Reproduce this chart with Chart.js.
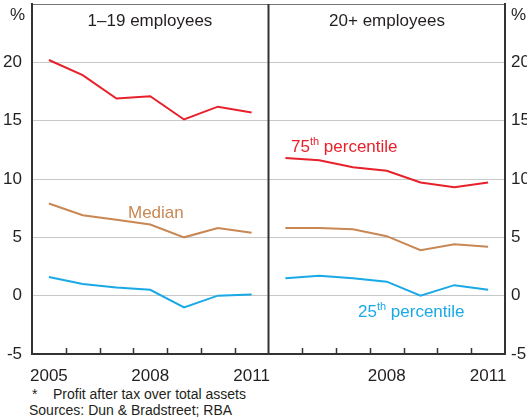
<!DOCTYPE html>
<html>
<head>
<meta charset="utf-8">
<script src="https://cdn.jsdelivr.net/npm/chart.js@4.4.1/dist/chart.umd.min.js"></script>
<style>
  body { margin: 0; background: #fff; }
  #wrap { position: relative; width: 527px; height: 420px; overflow: hidden; font-family: Arial, "Liberation Sans", sans-serif; color: #231f20; }
  #box { position: absolute; left: 0; top: 0; width: 527px; height: 385px; }
  .t { position: absolute; white-space: nowrap; line-height: 17px; font-size: 17px; }
  .t sup { font-size: 11px; line-height: 0; vertical-align: 7px; }
  .f { position: absolute; white-space: nowrap; font-size: 14px; line-height: 14px; }
</style>
</head>
<body>
<div id="wrap">
  <div id="box"><canvas id="chart"></canvas></div>
  <div class="t" style="left:10px;top:6px;">%</div>
  <div class="t" style="left:511px;top:6px;">%</div>
  <div class="t" style="left:150px;top:12px;transform:translateX(-50%);">1–19 employees</div>
  <div class="t" style="left:387px;top:12px;transform:translateX(-50%);">20+ employees</div>
  <div class="t" style="left:128px;top:204px;color:#c88753;">Median</div>
  <div class="t" style="left:291px;top:138px;color:#e8202a;">75<sup>th</sup> percentile</div>
  <div class="t" style="left:358px;top:303px;color:#19a9e6;">25<sup>th</sup> percentile</div>
  <div class="f" style="left:32px;top:387px;">*</div>
  <div class="f" style="left:53px;top:387px;">Profit after tax over total assets</div>
  <div class="f" style="left:29px;top:403px;">Sources: Dun &amp; Bradstreet; RBA</div>
</div>
<script>
const years = ["2005", "2006", "2007", "2008", "2009", "2010", "2011"];
const leftTickYears = ["2005", "2008", "2011"];
const rightTickYears = ["2008", "2011"];

// 1-19 employees
const small75 = [20.2, 18.9, 16.9, 17.1, 15.1, 16.2, 15.7];
const smallMedian = [7.9, 6.9, 6.5, 6.1, 5.0, 5.8, 5.4];
const small25 = [1.6, 1.0, 0.7, 0.5, -1.0, 0.0, 0.1];

// 20+ employees
const large75 = [11.8, 11.6, 11.0, 10.7, 9.7, 9.3, 9.7];
const largeMedian = [5.8, 5.8, 5.7, 5.1, 3.9, 4.4, 4.2];
const large25 = [1.5, 1.7, 1.5, 1.2, 0.0, 0.9, 0.5];

const red = "#e8202a";
const brown = "#c88753";
const blue = "#19a9e6";
const n = years.length;

// each panel is n units wide on one linear x scale, points sit mid-year
function toPoints(values, panel) {
    return values.map((v, i) => ({ x: panel * n + i + 0.5, y: v }));
}
function line(values, panel, color) {
    return {
        data: toPoints(values, panel),
        borderColor: color,
        borderWidth: 2,
        pointRadius: 0,
        fill: false,
        tension: 0
    };
}

const tickPositions = [
    ...leftTickYears.map(y => years.indexOf(y) + 0.5),
    ...rightTickYears.map(y => n + years.indexOf(y) + 0.5)
];

// fixed axis sizes, no extra room for overflowing labels
function fixSize(w, h) {
    return scale => {
        if (w !== null) scale.width = w;
        if (h !== null) scale.height = h;
        scale.paddingTop = 0;
        scale.paddingBottom = 0;
        scale.paddingLeft = 0;
        scale.paddingRight = 0;
    };
}

const panelMarks = {
    id: "panelMarks",
    afterDatasetsDraw(chart) {
        const { ctx, chartArea, scales } = chart;
        ctx.save();
        ctx.strokeStyle = "#333";
        // inward tick marks at year boundaries
        ctx.lineWidth = 1.5;
        for (let i = 1; i < 2 * n; i++) {
            if (i === n) continue;
            const x = Math.round(scales.x.getPixelForValue(i)) + 0.5;
            ctx.beginPath();
            ctx.moveTo(x, chartArea.bottom);
            ctx.lineTo(x, chartArea.bottom - 6);
            ctx.stroke();
        }
        // divider between panels
        const xd = scales.x.getPixelForValue(n);
        ctx.lineWidth = 2;
        ctx.beginPath();
        ctx.moveTo(xd, chartArea.top);
        ctx.lineTo(xd, chartArea.bottom);
        ctx.stroke();
        ctx.restore();
    }
};

const tickFont = { family: "Arial, 'Liberation Sans', sans-serif", size: 17 };

new Chart(document.getElementById("chart"), {
    type: "line",
    data: {
        datasets: [
            line(small75, 0, red),
            line(smallMedian, 0, brown),
            line(small25, 0, blue),
            line(large75, 1, red),
            line(largeMedian, 1, brown),
            line(large25, 1, blue)
        ]
    },
    options: {
        responsive: true,
        maintainAspectRatio: false,
        animation: false,
        layout: { padding: { top: 4, left: 0, right: 0, bottom: 0 } },
        plugins: { legend: { display: false }, tooltip: { enabled: false } },
        scales: {
            x: {
                type: "linear",
                min: 0,
                max: 2 * n,
                grid: { display: false },
                border: { display: true, color: "#333", width: 2 },
                afterBuildTicks: scale => {
                    scale.ticks = tickPositions.map(v => ({ value: v }));
                },
                afterFit: fixSize(null, 31),
                ticks: {
                    autoSkip: false,
                    maxRotation: 0,
                    padding: 4,
                    color: "#231f20",
                    font: tickFont,
                    callback: v => years[Math.floor(v) % n]
                }
            },
            y: {
                position: "left",
                min: -5,
                max: 25,
                afterFit: fixSize(32, null),
                grid: {
                    drawTicks: false,
                    color: ctx => ctx.tick && ctx.tick.value === 25 ? "#777" : "#c8c8c8",
                    lineWidth: 1
                },
                border: { display: true, color: "#333", width: 2 },
                ticks: {
                    stepSize: 5,
                    padding: 10,
                    color: "#231f20",
                    font: tickFont,
                    callback: v => v === 25 ? "" : v
                }
            },
            y2: {
                position: "right",
                min: -5,
                max: 25,
                afterFit: fixSize(22, null),
                grid: { display: false, drawTicks: false },
                border: { display: true, color: "#333", width: 2 },
                ticks: {
                    stepSize: 5,
                    padding: 6,
                    color: "#231f20",
                    font: tickFont,
                    callback: v => v === 25 ? "" : v
                }
            }
        }
    },
    plugins: [panelMarks]
});
</script>
</body>
</html>
